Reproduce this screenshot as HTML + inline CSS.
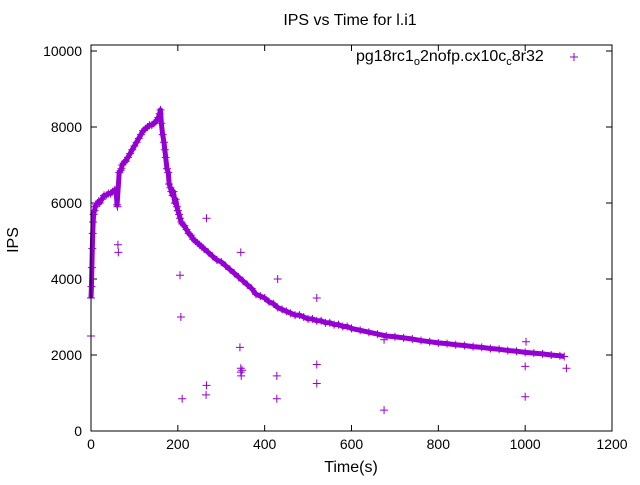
<!DOCTYPE html>
<html><head><meta charset="utf-8"><style>
body{margin:0;background:#fff}
svg text{font-family:"Liberation Sans",sans-serif;fill:#000}
</style></head><body>
<svg id="chart" width="640" height="480" xmlns="http://www.w3.org/2000/svg">
<rect width="640" height="480" fill="#fff"/>
<text x="350" y="25" font-size="16" text-anchor="middle">IPS vs Time for l.i1</text>
<text x="18" y="240" font-size="16" text-anchor="middle" transform="rotate(-90 18 240)">IPS</text>
<text x="351" y="472" font-size="16" text-anchor="middle">Time(s)</text>
<g id="ticks"></g>
<g id="band"></g>
<g id="marks"></g>
<rect x="91" y="45" width="521" height="386" fill="none" stroke="#000" stroke-width="1"/>
<text x="356" y="61" font-size="16">pg18rc1<tspan font-size="11" dy="4">o</tspan><tspan dy="-4">2nofp.cx10c</tspan><tspan font-size="11" dy="4">c</tspan><tspan dy="-4">8r32</tspan></text>
<g stroke="#9400d3" stroke-width="1"><line x1="570" y1="57" x2="578" y2="57"/><line x1="574" y1="53" x2="574" y2="61"/></g>
</svg>
<script>
const xTicks=[0,200,400,600,800,1000,1200];
const yTicks=[0,2000,4000,6000,8000,10000];
const mainT=[0,1,2,3,4,5,6,8,10,12,15,18,20,25,30,35,40,45,50,55,58,60,65,68,70,72,75,78,80,85,90,95,100,105,110,115,120,125,130,135,140,145,150,155,158,160,162,165,168,170,172,175,178,180,183,185,188,190,193,195,198,200,203,205,208,210,215,220,225,230,235,240,245,250,255,260,270,280,290,300,310,320,330,340,350,360,370,380,390,400,410,420,430,440,450,460,470,480,490,500,510,520,530,540,550,560,570,580,590,600,620,640,660,680,700,720,740,760,780,800,820,840,860,880,900,920,940,960,980,1000,1020,1040,1060,1080,1090];
const mainIPS=[3500,3800,4300,4800,5200,5500,5700,5800,5900,5950,6000,6050,6000,6100,6200,6200,6250,6250,6300,6350,6300,5950,6800,6850,6900,7000,7050,7100,7100,7200,7300,7400,7500,7600,7700,7800,7900,7950,8000,8050,8050,8100,8150,8250,8350,8450,8100,7800,7600,7400,7200,6900,6800,6500,6400,6300,6200,6300,6000,6100,5900,5800,5700,5600,5500,5450,5400,5300,5200,5150,5050,5000,4950,4900,4850,4800,4700,4600,4500,4450,4350,4250,4150,4050,3950,3850,3750,3600,3550,3500,3400,3350,3250,3200,3150,3100,3050,3050,3000,2950,2950,2900,2900,2850,2850,2800,2800,2750,2750,2700,2650,2600,2550,2500,2480,2450,2420,2380,2350,2320,2300,2270,2250,2220,2200,2170,2150,2120,2100,2070,2050,2030,2000,1980,1960];
const outT=[0,61,62,63,205,207,210,265,266,266,343,345,345,346,348,345,428,428,430,520,520,520,675,675,1000,1000,1002,1095];
const outIPS=[2500,5900,4900,4700,4100,3000,850,950,1200,5600,2200,1650,1550,1450,1600,4700,850,1450,4000,1750,1250,3500,550,2400,900,1700,2350,1650];
const X=t=>91+t*521/1200;
const Y=v=>431-v*380/10000;
const NS="http://www.w3.org/2000/svg";
const tk=document.getElementById('ticks');
function el(tag,attrs,parent){const e=document.createElementNS(NS,tag);for(const k in attrs)e.setAttribute(k,attrs[k]);parent.appendChild(e);return e;}
xTicks.forEach(t=>{
  const l=el('line',{x1:X(t),x2:X(t),y1:431,y2:425,stroke:'#000'},tk);
  
  
  const l2=el('line',{x1:X(t),x2:X(t),y1:45,y2:51,stroke:'#000'},tk);
  
  
  const s=el('text',{x:X(t),y:449,'font-size':14,'text-anchor':'middle'},tk);s.textContent=t;
  
  
});
yTicks.forEach(v=>{
  const l=el('line',{x1:91,x2:97,y1:Y(v),y2:Y(v),stroke:'#000'},tk);
  
  
  const l2=el('line',{x1:606,x2:612,y1:Y(v),y2:Y(v),stroke:'#000'},tk);
  
  
  const s=el('text',{x:82,y:Y(v)+5,'font-size':14,'text-anchor':'end'},tk);s.textContent=v;
  
  
});
const band=document.getElementById('band');
const pl=el('polyline',{points:mainT.map((t,i)=>X(t)+','+Y(mainIPS[i])).join(' '),fill:'none',stroke:'#9400d3','stroke-width':5,'stroke-linejoin':'round'},band);


const mk=document.getElementById('marks');
function plus(t,v){
  const g=el('path',{d:`M${X(t)-4},${Y(v)}h8M${X(t)},${Y(v)-4}v8`,stroke:'#9400d3','stroke-width':1,fill:'none'},mk);
  
  
}
mainT.forEach((t,i)=>plus(t,mainIPS[i]));
outT.forEach((t,i)=>plus(t,outIPS[i]));
</script>
</body></html>
